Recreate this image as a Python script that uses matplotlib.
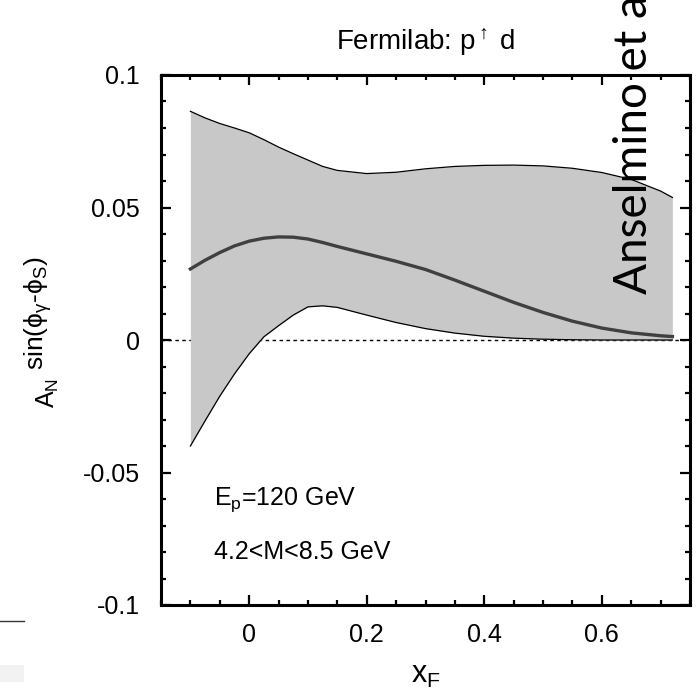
import numpy as np
import matplotlib
matplotlib.use("Agg")
import matplotlib.pyplot as plt
from matplotlib.ticker import MultipleLocator
from matplotlib.lines import Line2D
from matplotlib.patches import Rectangle

plt.rcParams['font.family'] = ['Liberation Sans', 'DejaVu Sans']
plt.rcParams['mathtext.fontset'] = 'custom'
plt.rcParams['mathtext.rm'] = 'Liberation Sans'
plt.rcParams['mathtext.it'] = 'Liberation Sans:italic'
plt.rcParams['mathtext.default'] = 'regular'

# values
xF = [-0.1, -0.075, -0.05, -0.025, 0.0, 0.025, 0.05, 0.075, 0.1, 0.125, 0.15,
      0.2, 0.25, 0.3, 0.35, 0.4, 0.45, 0.5, 0.55, 0.6, 0.65, 0.7, 0.72]
AN_central = [0.0268, 0.0301, 0.0330, 0.0355, 0.0373, 0.0384, 0.0389, 0.0388, 0.0381, 0.0368, 0.0353,
              0.0325, 0.0297, 0.0266, 0.0226, 0.0184, 0.0142, 0.0104, 0.0071, 0.0045, 0.0027, 0.0016, 0.0013]
AN_upper = [0.0863, 0.0838, 0.0817, 0.0800, 0.0782, 0.0756, 0.0728, 0.0703, 0.0679, 0.0655, 0.0640,
            0.0628, 0.0633, 0.0646, 0.0655, 0.0659, 0.0660, 0.0657, 0.0648, 0.0632, 0.0606, 0.0562, 0.0538]
AN_lower = [-0.0400, -0.0305, -0.0212, -0.0128, -0.0052, 0.0012, 0.0054, 0.0094, 0.0125, 0.0129, 0.0123,
            0.0094, 0.0066, 0.0043, 0.0026, 0.0014, 0.0007, 0.0003, 0.0001, 0.0, 0.0, 0.0, 0.0]

xticks = [0, 0.2, 0.4, 0.6]
xticklabels = ['0', '0.2', '0.4', '0.6']
yticks = [-0.1, -0.05, 0, 0.05, 0.1]
yticklabels = ['-0.1', '-0.05', '0', '0.05', '0.1']

fig = plt.figure(figsize=(6.96, 6.92), dpi=100)
ax = fig.add_axes([161 / 696, 1 - 605 / 692, 529 / 696, 530 / 692])

ax.axhline(0, color='black', lw=1.0, ls=(0, (2.5, 2.5)), zorder=1)
ax.fill_between(xF, AN_lower, AN_upper, color='#c8c8c8', lw=0, zorder=2)
ax.plot(xF, AN_upper, color='black', lw=0.9, zorder=3)
ax.plot(xF, AN_lower, color='black', lw=0.9, zorder=3)
ax.plot(xF, AN_central, color='#404040', lw=2.4, zorder=4)

ax.set_xlim(-0.15, 0.75)
ax.set_ylim(-0.1, 0.1)
ax.set_xticks(xticks)
ax.set_xticklabels(xticklabels)
ax.set_yticks(yticks)
ax.set_yticklabels(yticklabels)
ax.xaxis.set_minor_locator(MultipleLocator(0.05))
ax.yaxis.set_minor_locator(MultipleLocator(0.01))
ax.tick_params(which='both', direction='in', top=True, right=True, width=1.6, labelsize=18)
ax.tick_params(which='major', length=7)
ax.tick_params(which='minor', length=3.5)
ax.tick_params(axis='x', pad=13)
ax.tick_params(axis='y', pad=15)
for s in ax.spines.values():
    s.set_linewidth(2.2)

ax.set_xlabel(r'x$_F$', fontsize=22, labelpad=9)
ax.set_title(r'Fermilab: p$^{\uparrow}$ d', fontsize=20, pad=18)

# y label: A_N with a large superscript, built from two rotated texts
fig.text(55 / 696, 1 - 408 / 692, r'A$_N$', rotation=90, rotation_mode='anchor',
         ha='left', va='baseline', fontsize=18)
fig.text(44 / 696, 1 - 370 / 692, r'sin($\phi_{\gamma}$-$\phi_S$)', rotation=90, rotation_mode='anchor',
         ha='left', va='baseline', fontsize=19)

ax.text(-0.059, -0.0622, r'E$_p$=120 GeV', fontsize=18, ha='left', va='baseline')
ax.text(-0.059, -0.0826, '4.2<M<8.5 GeV', fontsize=18, ha='left', va='baseline')

# slide overlay and leftovers
fig.text(646.7 / 696, 1 - 294 / 692, 'Anselmino et al', rotation=90, rotation_mode='anchor',
         ha='left', va='baseline', fontsize=33, family=['Lato', 'DejaVu Sans'], color='black', zorder=10)
fig.add_artist(Line2D([0, 24 / 696], [1 - 621 / 692] * 2, color='#333333', lw=1.0))
fig.add_artist(Rectangle((0, 1 - 682 / 692), 24 / 696, 17 / 692, color='#f2f2f2', lw=0))

fig.savefig('out.png', dpi=100)
